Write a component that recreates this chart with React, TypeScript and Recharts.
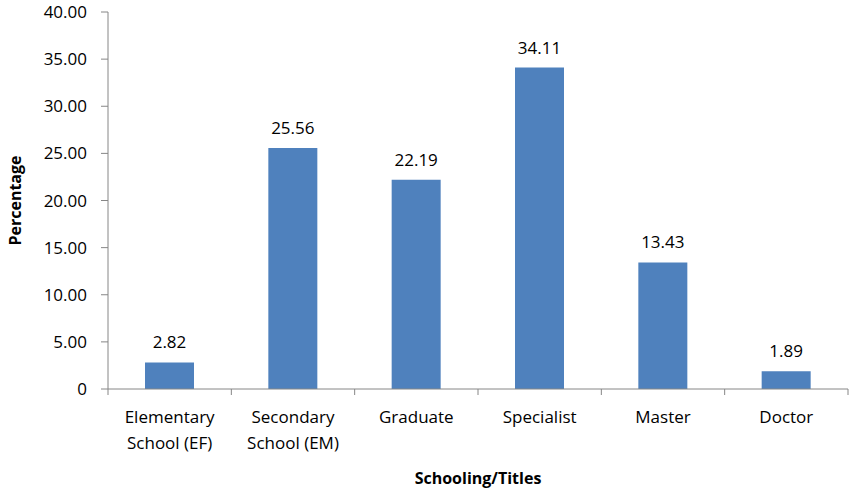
import React from "react";
import { BarChart, Bar, XAxis, YAxis, LabelList } from "recharts";

const categories = ["Elementary School (EF)", "Secondary School (EM)", "Graduate", "Specialist", "Master", "Doctor"];
const tickLines: string[][] = [
  ["Elementary", "School (EF)"],
  ["Secondary", "School (EM)"],
  ["Graduate"],
  ["Specialist"],
  ["Master"],
  ["Doctor"],
];
const percentages = [2.82, 25.56, 22.19, 34.11, 13.43, 1.89];
const yTicks = [0, 5, 10, 15, 20, 25, 30, 35, 40];

const data = categories.map((c, i) => ({ name: c, idx: i, value: percentages[i] }));

const FONT = "'Open Sans', 'Noto Sans', sans-serif";
const FS = 17;
const AXIS = "#868686";

const XTick = (props: any) => {
  const { x, y, payload } = props;
  const lines = tickLines[payload.index] || [String(payload.value)];
  const half = typeof payload.offset === "number" && payload.offset > 0 ? payload.offset : 740 / 12;
  const last = payload.index === categories.length - 1;
  return (
    <g>
      <line x1={x - half} x2={x - half} y1={y - 6} y2={y} stroke={AXIS} />
      {last && <line x1={x + half} x2={x + half} y1={y - 6} y2={y} stroke={AXIS} />}
      {lines.map((l, i) => (
        <text key={i} x={x} y={y + 28 + i * 26} textAnchor="middle" fill="#000" fontSize={FS} fontFamily={FONT}>
          {l}
        </text>
      ))}
    </g>
  );
};

export default function App() {
  return (
    <div style={{ position: "absolute", left: 0, top: 0, background: "#fff" }}>
      <BarChart width={849} height={492} data={data} margin={{ top: 12, right: 1, bottom: 0, left: 0 }} barCategoryGap="30%">
        <XAxis
          dataKey="name"
          height={103}
          tick={<XTick />}
          tickLine={false}
          axisLine={{ stroke: AXIS }}
          tickSize={6}
          tickMargin={0}
          interval={0}
          label={{ value: "Schooling/Titles", position: "insideBottom", offset: 8, fill: "#000", fontWeight: "bold", fontSize: 16, fontFamily: FONT }}
        />
        <YAxis
          domain={[0, 40]}
          ticks={yTicks}
          width={108}
          tickSize={7}
          tickMargin={14}
          tickLine={{ stroke: AXIS }}
          axisLine={{ stroke: AXIS }}
          tick={{ fill: "#000", fontSize: FS, fontFamily: FONT }}
          tickFormatter={(v: number) => (v === 0 ? "0" : v.toFixed(2))}
          interval={0}
          label={{ value: "Percentage", angle: -90, position: "insideLeft", offset: 15, fill: "#000", fontWeight: "bold", fontSize: 16, fontFamily: FONT, style: { textAnchor: "middle" } }}
        />
        <Bar dataKey="value" fill="#4F81BD" isAnimationActive={false}>
          <LabelList dataKey="value" position="top" offset={14} fill="#000" fontSize={FS} fontFamily={FONT} formatter={(v: number) => v.toFixed(2)} />
        </Bar>
      </BarChart>
    </div>
  );
}
